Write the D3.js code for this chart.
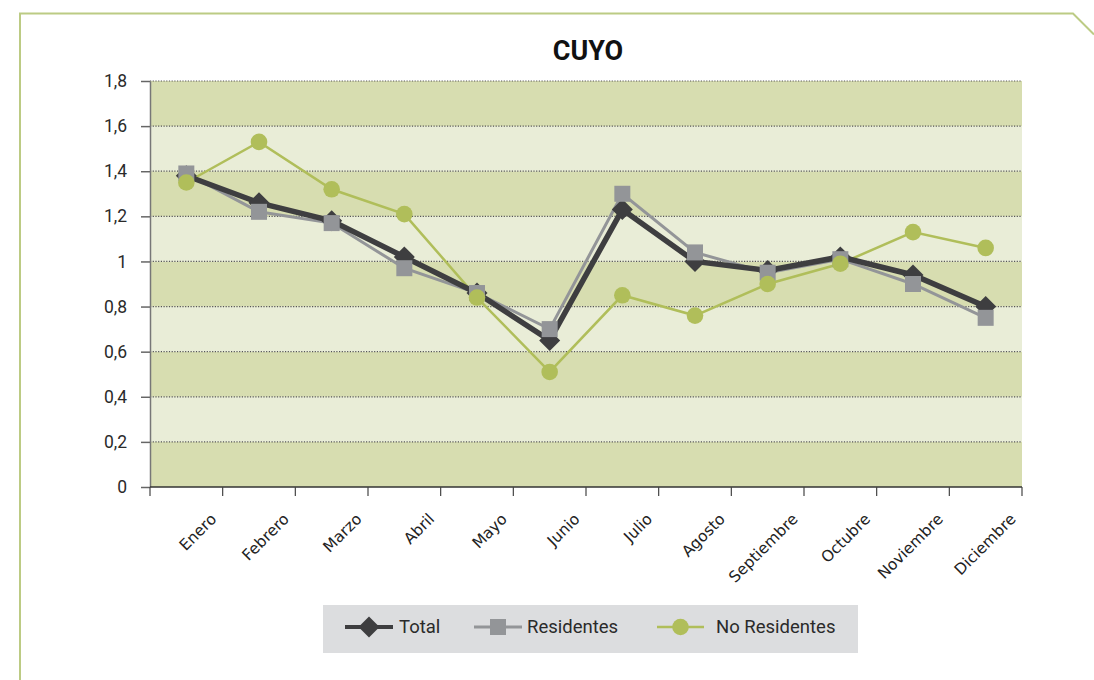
<!DOCTYPE html>
<html>
<head>
<meta charset="utf-8">
<script src="https://cdn.jsdelivr.net/npm/d3@7"></script>
<style>
  html, body { margin: 0; padding: 0; background: #fff; }
  svg { display: block; }
</style>
</head>
<body>
<svg id="chart" width="1094" height="680"></svg>
<script>
// Monthly series for the Cuyo region
const months = ["Enero","Febrero","Marzo","Abril","Mayo","Junio","Julio","Agosto","Septiembre","Octubre","Noviembre","Diciembre"];
const total       = [1.38, 1.26, 1.18, 1.02, 0.86, 0.65, 1.23, 1.00, 0.96, 1.02, 0.94, 0.80];
const residentes  = [1.39, 1.22, 1.17, 0.97, 0.86, 0.70, 1.30, 1.04, 0.95, 1.01, 0.90, 0.75];
const noResidentes= [1.35, 1.53, 1.32, 1.21, 0.84, 0.51, 0.85, 0.76, 0.90, 0.99, 1.13, 1.06];
const yTicks      = [0, 0.2, 0.4, 0.6, 0.8, 1, 1.2, 1.4, 1.6, 1.8];
const yTickLabels = ["0","0,2","0,4","0,6","0,8","1","1,2","1,4","1,6","1,8"];
const seriesNames = ["Total","Residentes","No Residentes"];

const svg = d3.select("#chart");
const font = "Roboto, 'DejaVu Sans', sans-serif";

// Decorative frame with clipped top-right corner
svg.append("path")
  .attr("d", "M20,680 L20,13.5 L1073,13.5 L1094,34.5")
  .attr("fill", "none").attr("stroke", "#bccb84").attr("stroke-width", 2);

const plotLeft = 150, plotRight = 1022, plotTop = 81, plotBottom = 487;
const x = d3.scaleBand().domain(months).range([plotLeft, plotRight]).padding(0);
const y = d3.scaleLinear().domain([0, 1.8]).range([plotBottom, plotTop]);

// Alternating background bands
const bands = svg.append("g");
yTicks.slice(0, -1).forEach((v, i) => {
  bands.append("rect")
    .attr("x", plotLeft).attr("width", plotRight - plotLeft)
    .attr("y", y(yTicks[i + 1])).attr("height", y(v) - y(yTicks[i + 1]))
    .attr("fill", i % 2 === 0 ? "#d7ddb0" : "#e9edd7");
});

// Dotted gridlines
svg.append("g").selectAll("line").data(yTicks.filter(v => v > 0)).join("line")
  .attr("x1", plotLeft).attr("x2", plotRight)
  .attr("y1", d => y(d)).attr("y2", d => y(d))
  .attr("stroke", "#555").attr("stroke-width", 1.2).attr("stroke-dasharray", "1.2,1.5");

// Y axis
const yAxis = svg.append("g").attr("transform", `translate(${plotLeft},0)`)
  .call(d3.axisLeft(y).tickValues(yTicks).tickSize(9).tickSizeOuter(0)
    .tickFormat((d, i) => yTickLabels[i]).tickPadding(14));
yAxis.select(".domain").attr("stroke", "#777").attr("stroke-width", 1.5);
yAxis.selectAll(".tick line").attr("stroke", "#666").attr("stroke-width", 1.5);
yAxis.selectAll(".tick text").attr("font-family", font).attr("font-size", 17.5).attr("fill", "#2a2a2a");

// X axis: labels at category centres, ticks at category boundaries
const xAxis = svg.append("g").attr("transform", `translate(0,${plotBottom})`);
xAxis.append("line").attr("x1", plotLeft).attr("x2", plotRight).attr("y1", 0).attr("y2", 0)
  .attr("stroke", "#333").attr("stroke-width", 1.5);
const boundaries = months.map(m => x(m)).concat([plotRight]);
xAxis.selectAll("line.tk").data(boundaries).join("line").attr("class", "tk")
  .attr("x1", d => d).attr("x2", d => d).attr("y1", 0).attr("y2", 9)
  .attr("stroke", "#444").attr("stroke-width", 1.2);
xAxis.selectAll("text").data(months).join("text")
  .attr("transform", d => `translate(${x(d) + x.bandwidth() / 2 + 31},${33}) rotate(-45)`)
  .attr("text-anchor", "end")
  .attr("font-family", "'DejaVu Sans', sans-serif").attr("font-size", 15.5).attr("fill", "#222")
  .text(d => d);

// Series lines and markers
const cx = m => x(m) + x.bandwidth() / 2;
const line = d3.line().x(d => cx(d.m)).y(d => y(d.v));
const toPts = arr => months.map((m, i) => ({ m, v: arr[i] }));

const cTotal = "#3e3e40", cRes = "#939598", cNo = "#b0be5a";

svg.append("path").datum(toPts(noResidentes)).attr("d", line)
  .attr("fill", "none").attr("stroke", cNo).attr("stroke-width", 2.5);
svg.append("path").datum(toPts(residentes)).attr("d", line)
  .attr("fill", "none").attr("stroke", cRes).attr("stroke-width", 3);
svg.append("path").datum(toPts(total)).attr("d", line)
  .attr("fill", "none").attr("stroke", cTotal).attr("stroke-width", 5.5);

const diamond = (cxp, cyp, r) => `M${cxp},${cyp - r}L${cxp + r},${cyp}L${cxp},${cyp + r}L${cxp - r},${cyp}Z`;

svg.append("g").selectAll("path").data(toPts(total)).join("path")
  .attr("d", d => diamond(cx(d.m), y(d.v), 10.5)).attr("fill", cTotal);
svg.append("g").selectAll("rect").data(toPts(residentes)).join("rect")
  .attr("x", d => cx(d.m) - 8).attr("y", d => y(d.v) - 8)
  .attr("width", 16).attr("height", 16).attr("fill", cRes);
svg.append("g").selectAll("circle").data(toPts(noResidentes)).join("circle")
  .attr("cx", d => cx(d.m)).attr("cy", d => y(d.v)).attr("r", 8.3).attr("fill", cNo);

// Title
svg.append("text").attr("x", 588).attr("y", 60).attr("text-anchor", "middle")
  .attr("font-family", font).attr("font-weight", "bold").attr("font-size", 27).attr("fill", "#111")
  .text("CUYO");

// Legend
const lg = svg.append("g");
lg.append("rect").attr("x", 323).attr("y", 605).attr("width", 535).attr("height", 48).attr("fill", "#dcdddf");
const ly = 627;
const legendItems = [
  { name: seriesNames[0], x1: 345, x2: 393, text: 399, color: cTotal, w: 4, mark: "diamond" },
  { name: seriesNames[1], x1: 474, x2: 522, text: 527, color: cRes, w: 3, mark: "square" },
  { name: seriesNames[2], x1: 657, x2: 704, text: 716, color: cNo, w: 2.5, mark: "circle" }
];
legendItems.forEach(it => {
  const mid = (it.x1 + it.x2) / 2;
  lg.append("line").attr("x1", it.x1).attr("x2", it.x2).attr("y1", ly).attr("y2", ly)
    .attr("stroke", it.color).attr("stroke-width", it.w);
  if (it.mark === "diamond") lg.append("path").attr("d", diamond(mid, ly, 10.5)).attr("fill", it.color);
  if (it.mark === "square") lg.append("rect").attr("x", mid - 8).attr("y", ly - 8).attr("width", 16).attr("height", 16).attr("fill", it.color);
  if (it.mark === "circle") lg.append("circle").attr("cx", mid).attr("cy", ly).attr("r", 8.3).attr("fill", it.color);
  lg.append("text").attr("x", it.text).attr("y", 633).attr("font-family", font)
    .attr("font-size", 18.5).attr("fill", "#2a2a2a").text(it.name);
});
</script>
</body>
</html>
